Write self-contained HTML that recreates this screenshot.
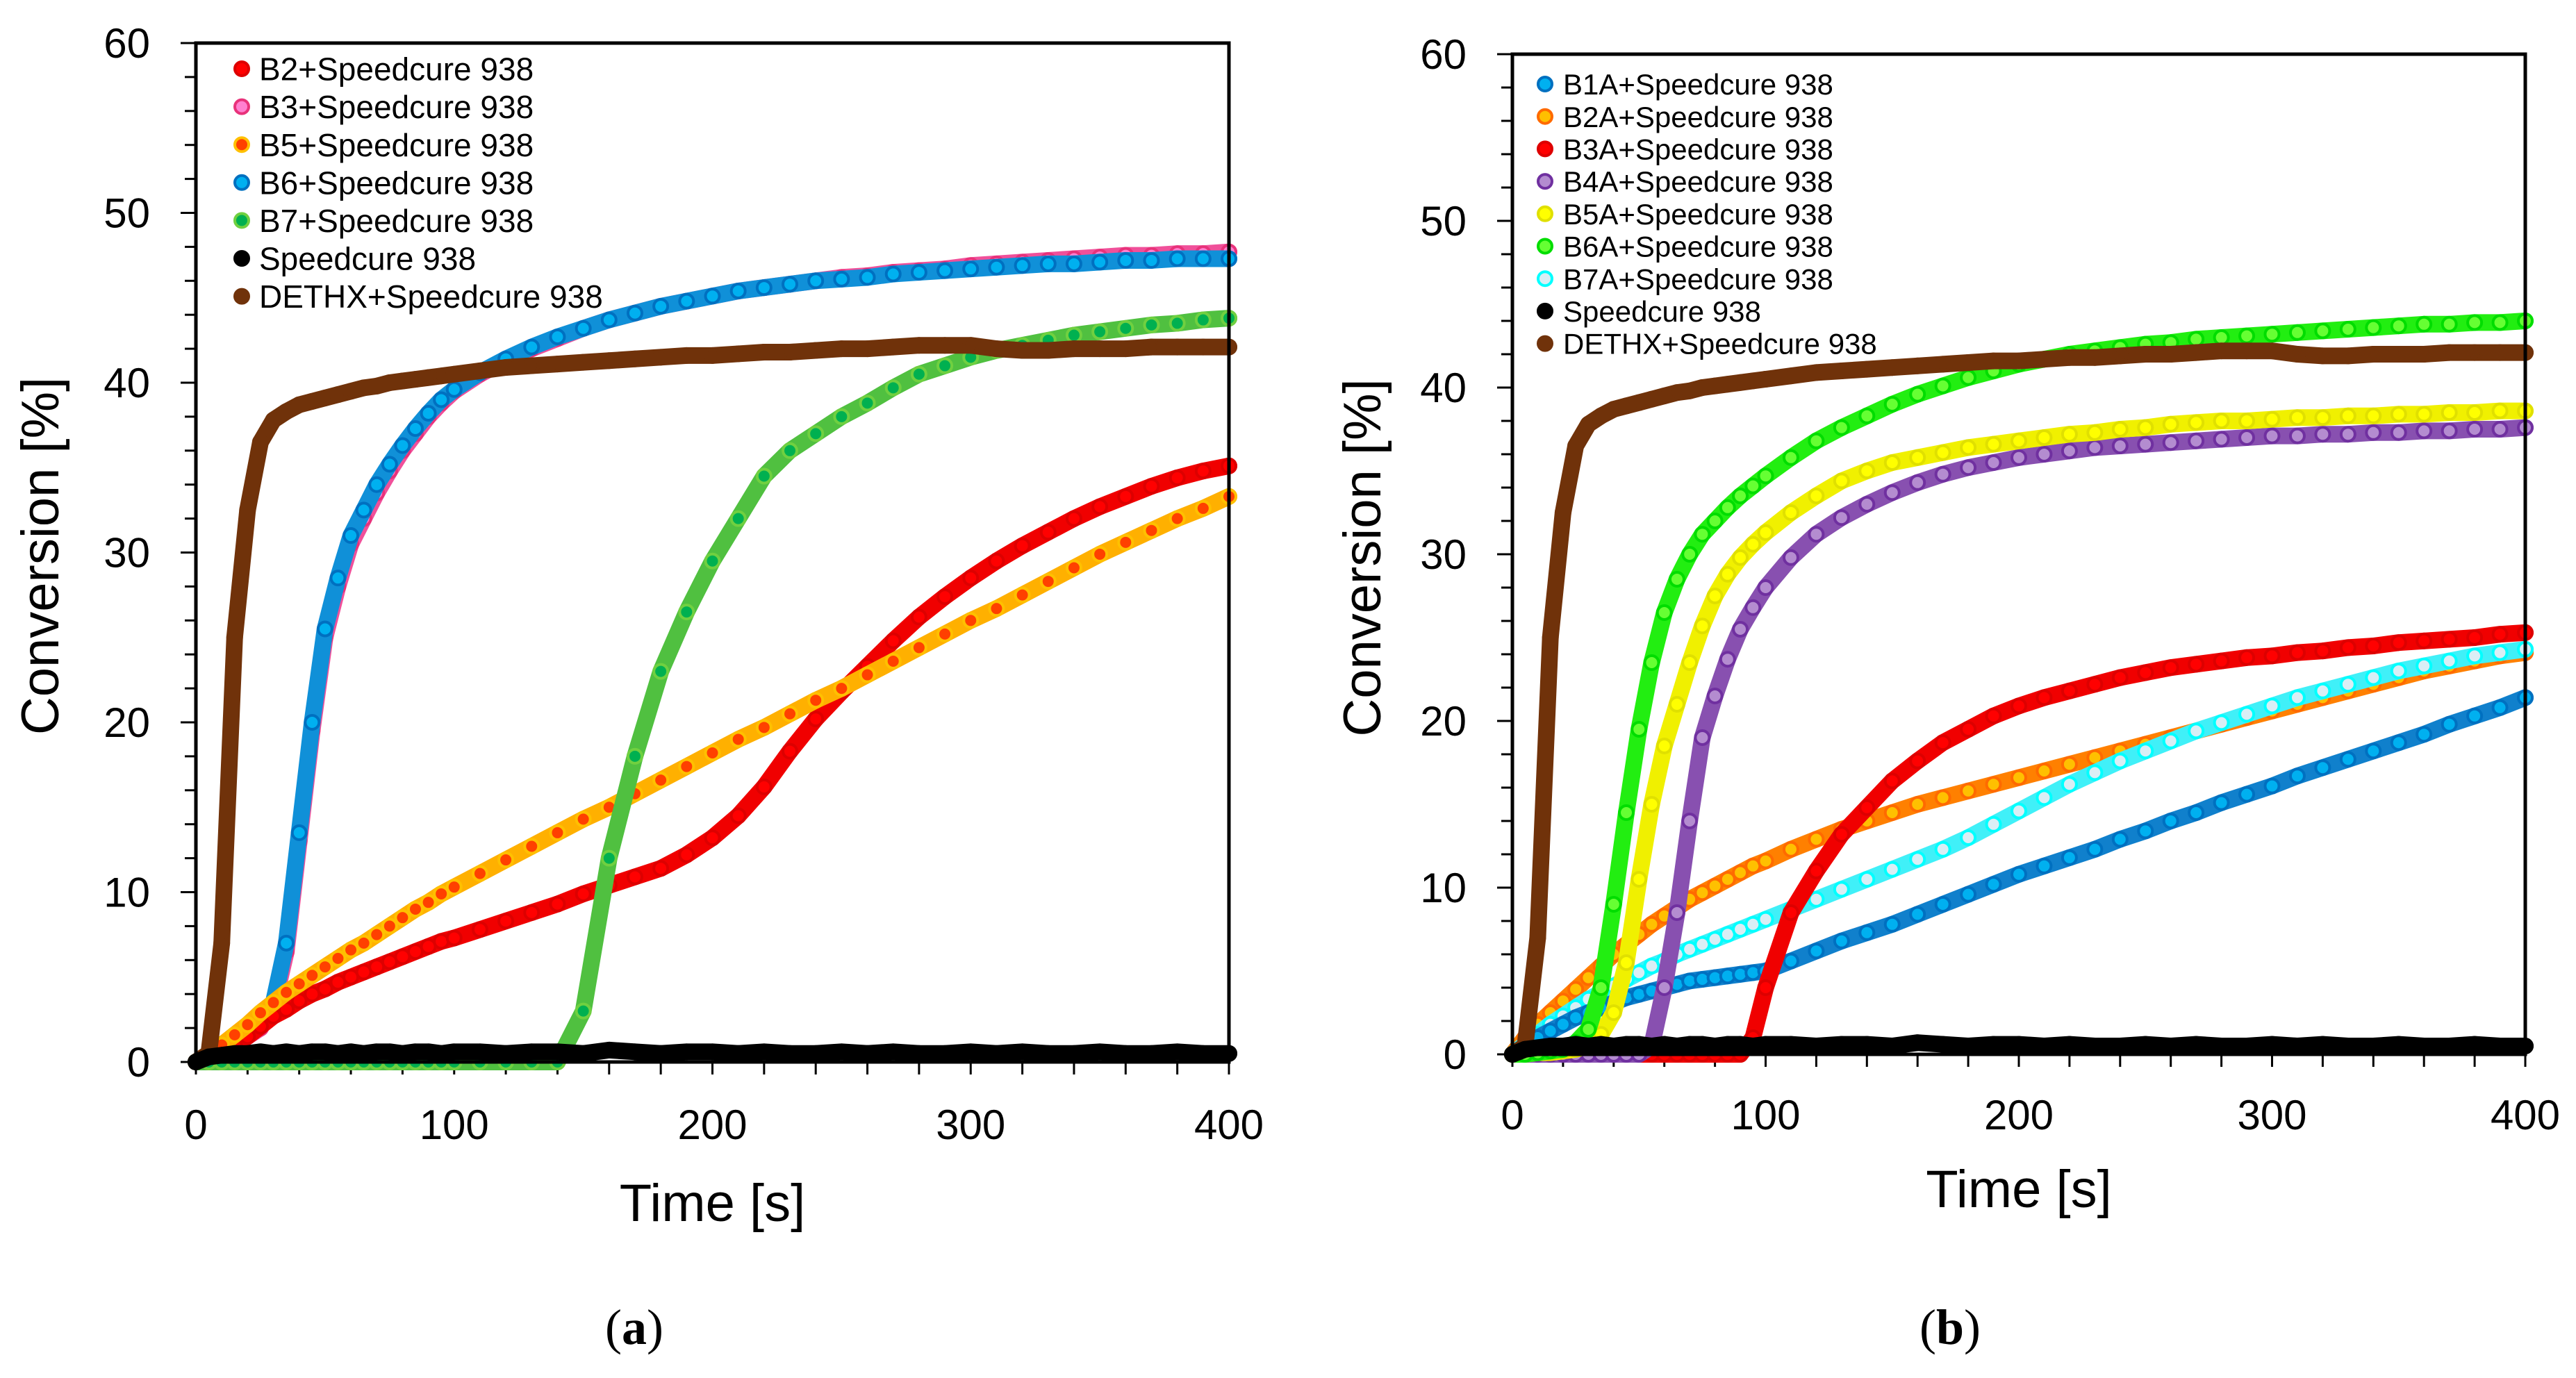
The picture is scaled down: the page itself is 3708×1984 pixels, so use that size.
<!DOCTYPE html>
<html><head><meta charset="utf-8">
<style>
html,body{margin:0;padding:0;background:#fff;}
svg{display:block;}
text{font-family:"Liberation Sans",sans-serif;fill:#000;}
</style></head>
<body>
<svg id="fig" width="3708" height="1984" viewBox="0 0 3708 1984" xmlns="http://www.w3.org/2000/svg">
<rect width="3708" height="1984" fill="#fff"/>
<g id="panelA"></g>
<g id="panelB"></g>
<text x="913" y="1935" text-anchor="middle" style="font-family:'Liberation Serif',serif;font-size:72px;">(<tspan font-weight="bold">a</tspan>)</text>
<text x="2807" y="1935" text-anchor="middle" style="font-family:'Liberation Serif',serif;font-size:72px;">(<tspan font-weight="bold">b</tspan>)</text>
</svg>
<script>
const T = [0,5,10,15,20,25,30,35,40,45,50,55,60,65,70,75,80,85,90,95,100,110,120,130,140,150,160,170,180,190,200,210,220,230,240,250,260,270,280,290,300,310,320,330,340,350,360,370,380,390,400];
const yTicks = [0,10,20,30,40,50,60];
const xTicks = [0,100,200,300,400];

const vDETHX = [0,0.5,7,25,32.5,36.5,37.8,38.3,38.7,38.9,39.1,39.3,39.5,39.7,39.8,40,40.1,40.2,40.3,40.4,40.5,40.7,40.9,41,41.1,41.2,41.3,41.4,41.5,41.6,41.6,41.7,41.8,41.8,41.9,42,42,42.1,42.2,42.2,42.2,42,41.9,41.9,42,42,42,42.1,42.1,42.1,42.1];
const vSC = [0,0.3,0.4,0.5,0.5,0.6,0.5,0.6,0.5,0.6,0.6,0.5,0.6,0.5,0.6,0.6,0.5,0.6,0.6,0.5,0.6,0.6,0.5,0.6,0.6,0.5,0.7,0.6,0.5,0.6,0.6,0.5,0.6,0.5,0.5,0.6,0.5,0.6,0.5,0.5,0.6,0.5,0.6,0.5,0.5,0.6,0.5,0.5,0.6,0.5,0.5];

const vB2 = [0,0.3,0.6,1,1.5,2.1,2.7,3.1,3.6,4,4.3,4.7,5,5.3,5.6,5.9,6.2,6.5,6.8,7.1,7.3,7.8,8.3,8.8,9.3,9.9,10.4,10.9,11.4,12.2,13.2,14.5,16.2,18.3,20.2,21.8,23.3,24.8,26.2,27.4,28.5,29.5,30.4,31.2,32,32.7,33.3,33.9,34.4,34.8,35.1];
const vB3 = [0,0.4,0.7,1,1.5,2,3.2,6.5,13,19.5,25,28,30.5,32,33.5,34.8,36,37,38,38.8,39.5,40.5,41.3,42,42.6,43.2,43.7,44.1,44.5,44.8,45.1,45.4,45.6,45.8,46,46.2,46.3,46.5,46.6,46.7,46.9,47,47.1,47.2,47.3,47.4,47.5,47.5,47.6,47.6,47.7];
const vB5 = [0,0.5,1,1.6,2.2,2.9,3.5,4.1,4.6,5.1,5.6,6.1,6.6,7,7.5,8,8.5,9,9.4,9.9,10.3,11.1,11.9,12.7,13.5,14.3,15,15.8,16.6,17.4,18.2,19,19.7,20.5,21.3,22,22.8,23.6,24.4,25.2,26,26.7,27.5,28.3,29.1,29.9,30.6,31.3,32,32.6,33.3];
const vB6 = [0,0.5,0.8,1.2,1.7,2.2,3.5,7,13.5,20,25.5,28.5,31,32.5,34,35.2,36.3,37.3,38.2,39,39.6,40.6,41.4,42.1,42.7,43.2,43.7,44.1,44.5,44.8,45.1,45.4,45.6,45.8,46,46.1,46.2,46.4,46.5,46.6,46.7,46.8,46.9,47,47,47.1,47.2,47.2,47.3,47.3,47.3];
const vB7 = [0,0,0,0,0,0,0,0,0,0,0,0,0,0,0,0,0,0,0,0,0,0,0,0,0,3,12,18,23,26.5,29.5,32,34.5,36,37,38,38.8,39.7,40.5,41,41.5,41.9,42.2,42.5,42.8,43,43.2,43.4,43.5,43.7,43.8];

const vB1A = [0,0.5,1,1.4,1.8,2.2,2.5,2.8,3.1,3.4,3.6,3.8,4,4.2,4.4,4.5,4.6,4.7,4.8,4.9,5,5.6,6.2,6.8,7.3,7.8,8.4,9,9.6,10.2,10.8,11.3,11.8,12.3,12.9,13.4,14,14.5,15.1,15.6,16.1,16.7,17.2,17.7,18.2,18.7,19.2,19.8,20.3,20.8,21.4];
const vB2A = [0,1,1.8,2.5,3.2,3.9,4.6,5.3,6,6.6,7.2,7.8,8.3,8.8,9.3,9.7,10.1,10.5,10.9,11.3,11.6,12.3,12.9,13.5,14,14.5,15,15.4,15.8,16.2,16.6,17,17.4,17.8,18.2,18.6,19,19.4,19.8,20.2,20.6,21,21.4,21.8,22.2,22.6,23,23.3,23.6,23.9,24.1];
const vB3A = [0,0,0,0,0,0,0,0,0,0,0,0,0,0,0,0,0,0,0,1,4,8.5,11,13.2,14.8,16.4,17.6,18.7,19.5,20.3,20.9,21.4,21.8,22.2,22.6,22.9,23.2,23.4,23.6,23.8,23.9,24.1,24.2,24.4,24.5,24.7,24.8,24.9,25,25.2,25.3];
const vB4A = [0,0,0,0,0,0,0,0,0,0,0,0.5,4,8.5,14,19,21.5,23.7,25.5,26.8,28,29.8,31.2,32.2,33,33.7,34.3,34.8,35.2,35.5,35.8,36,36.2,36.4,36.5,36.6,36.7,36.8,36.9,37,37.1,37.1,37.2,37.2,37.3,37.3,37.4,37.4,37.5,37.5,37.6];
const vB5A = [0,0,0.1,0.1,0.2,0.3,0.5,1.2,2.5,5.5,10.5,15,18.5,21,23.5,25.7,27.5,28.8,29.8,30.6,31.3,32.5,33.5,34.4,35,35.5,35.8,36.1,36.4,36.6,36.8,37,37.2,37.3,37.5,37.6,37.8,37.9,38,38,38.1,38.2,38.2,38.3,38.3,38.4,38.4,38.5,38.5,38.6,38.6];
const vB6A = [0,0,0.1,0.2,0.3,0.7,1.5,4,9,14.5,19.5,23.5,26.5,28.5,30,31.2,32,32.8,33.5,34.1,34.7,35.8,36.8,37.6,38.3,39,39.6,40.1,40.6,41,41.4,41.7,42,42.2,42.4,42.6,42.7,42.9,43,43.1,43.2,43.3,43.4,43.5,43.6,43.7,43.8,43.8,43.9,43.9,44];
const vB7A = [0,0.6,1.2,1.8,2.3,2.8,3.3,3.7,4.1,4.5,4.9,5.3,5.6,6,6.3,6.6,6.9,7.2,7.5,7.8,8.1,8.7,9.3,9.9,10.5,11.1,11.7,12.3,13,13.8,14.6,15.4,16.2,16.9,17.6,18.2,18.8,19.4,19.9,20.4,20.9,21.4,21.8,22.2,22.6,23,23.3,23.6,23.9,24.1,24.3];

const labelsA = ["B2+Speedcure 938","B3+Speedcure 938","B5+Speedcure 938","B6+Speedcure 938","B7+Speedcure 938","Speedcure 938","DETHX+Speedcure 938"];
const labelsB = ["B1A+Speedcure 938","B2A+Speedcure 938","B3A+Speedcure 938","B4A+Speedcure 938","B5A+Speedcure 938","B6A+Speedcure 938","B7A+Speedcure 938","Speedcure 938","DETHX+Speedcure 938"];

const NS = "http://www.w3.org/2000/svg";
function mk(tag, attrs, parent){
  const e = document.createElementNS(NS, tag);
  for (const k in attrs) e.setAttribute(k, attrs[k]);
  parent.appendChild(e);
  return e;
}

function panel(g, box, seriesList, drawOrder, legend, key){
  const xs = v => box.x0 + (v/400)*(box.x1-box.x0);
  const ys = v => box.y0 - (v/60)*(box.y0-box.y1);
  for (let v=0; v<=60; v+=2){
    const t = mk('line',{x1:box.x0-(v%10===0?22:16),x2:box.x0,y1:ys(v),y2:ys(v),stroke:'#000','stroke-width':3},g);
    
    
  }
  for (let v=0; v<=400; v+=20){
    const t = mk('line',{x1:xs(v),x2:xs(v),y1:box.y0,y2:box.y0+18,stroke:'#000','stroke-width':3},g);
    
    
  }
  yTicks.forEach(v=>{
    const t = mk('text',{x:box.x0-66,y:ys(v)+21,'text-anchor':'end','font-size':60},g);
    t.textContent = v;
    
    
  });
  xTicks.forEach(v=>{
    const t = mk('text',{x:xs(v),y:box.xlabY,'text-anchor':'middle','font-size':60},g);
    t.textContent = v;
    
    
  });
  const r = 11;
  drawOrder.forEach(i=>{
    const s = seriesList[i];
    const sg = mk('g',{},g);
    
    
    const pts = T.map((t,j)=>xs(t)+','+ys(s.v[j])).join(' ');
    const pl = mk('polyline',{points:pts,fill:'none',stroke:s.line,'stroke-width':2*r+2,'stroke-linejoin':'round','stroke-linecap':'round'},sg);
    
    
    T.forEach((t,j)=>{
      const c = mk('circle',{cx:xs(t),cy:ys(s.v[j]),r:r-1,fill:s.fill,stroke:s.stroke,'stroke-width':4},sg);
      
      
    });
  });
  const fr = mk('rect',{x:box.x0,y:box.y1,width:box.x1-box.x0,height:box.y0-box.y1,fill:'none',stroke:'#000','stroke-width':5},g);
  
  
  const lg = mk('g',{},g);
  
  
  legend.labels.forEach((lab,i)=>{
    const s = seriesList[i];
    const y = legend.y + i*legend.dy;
    const e = mk('g',{},lg);
    
    
    mk('circle',{cx:legend.x,cy:y,r:legend.r,fill:s.fill,stroke:s.stroke,'stroke-width':4},e);
    const t = mk('text',{x:legend.x+legend.tx,y:y+legend.fs*0.36,'font-size':legend.fs},e);
    t.textContent = lab;
  });
  const yt = mk('text',{x:0,y:0,'text-anchor':'middle','font-size':76,transform:`translate(${box.ytX},${(box.y0+box.y1)/2+5}) rotate(-90)`},g);
  yt.textContent = 'Conversion [%]';
  
  
  const xt = mk('text',{x:(box.x0+box.x1)/2,y:box.xtY,'text-anchor':'middle','font-size':76},g);
  xt.textContent = 'Time [s]';
  
  
}

const seriesA = [
  {id:'b2',v:vB2,fill:'#ff0000',stroke:'#dd0000',line:'#f00000'},
  {id:'b3',v:vB3,fill:'#ff80d0',stroke:'#e8327a',line:'#f0509a'},
  {id:'b5',v:vB5,fill:'#ff4000',stroke:'#ffc000',line:'#ffb000'},
  {id:'b6',v:vB6,fill:'#00b0f0',stroke:'#0070c0',line:'#1090d8'},
  {id:'b7',v:vB7,fill:'#00b050',stroke:'#70d040',line:'#50c040'},
  {id:'speedcure',v:vSC,fill:'#000',stroke:'#000',line:'#000'},
  {id:'dethx',v:vDETHX,fill:'#70320a',stroke:'#70320a',line:'#70320a'}
];
const seriesB = [
  {id:'b1a',v:vB1A,fill:'#00b0f0',stroke:'#0070c0',line:'#1080cc'},
  {id:'b2a',v:vB2A,fill:'#ffc000',stroke:'#ff6a00',line:'#ff8000'},
  {id:'b3a',v:vB3A,fill:'#ff0000',stroke:'#dd0000',line:'#f00000'},
  {id:'b4a',v:vB4A,fill:'#b48cd0',stroke:'#7030a0',line:'#8850b0'},
  {id:'b5a',v:vB5A,fill:'#ffff00',stroke:'#e0e000',line:'#f0f000'},
  {id:'b6a',v:vB6A,fill:'#66ff33',stroke:'#00dd00',line:'#22ee11'},
  {id:'b7a',v:vB7A,fill:'#d9eef5',stroke:'#00ffff',line:'#40f0f8'},
  {id:'speedcure',v:vSC,fill:'#000',stroke:'#000',line:'#000'},
  {id:'dethx',v:vDETHX,fill:'#70320a',stroke:'#70320a',line:'#70320a'}
];

panel(document.getElementById('panelA'),
  {x0:282,x1:1769,y0:1529,y1:62,xlabY:1640,ytX:84,xtY:1758},
  seriesA,[1,3,0,2,4,6,5],
  {labels:labelsA,x:348,y:99,dy:54.6,r:10,tx:25,fs:46},'a');
panel(document.getElementById('panelB'),
  {x0:2177,x1:3635,y0:1518,y1:78,xlabY:1626,ytX:1987,xtY:1738},
  seriesB,[1,6,0,2,3,4,5,8,7],
  {labels:labelsB,x:2224,y:121,dy:46.7,r:10,tx:26,fs:42},'b');
</script>
</body></html>
